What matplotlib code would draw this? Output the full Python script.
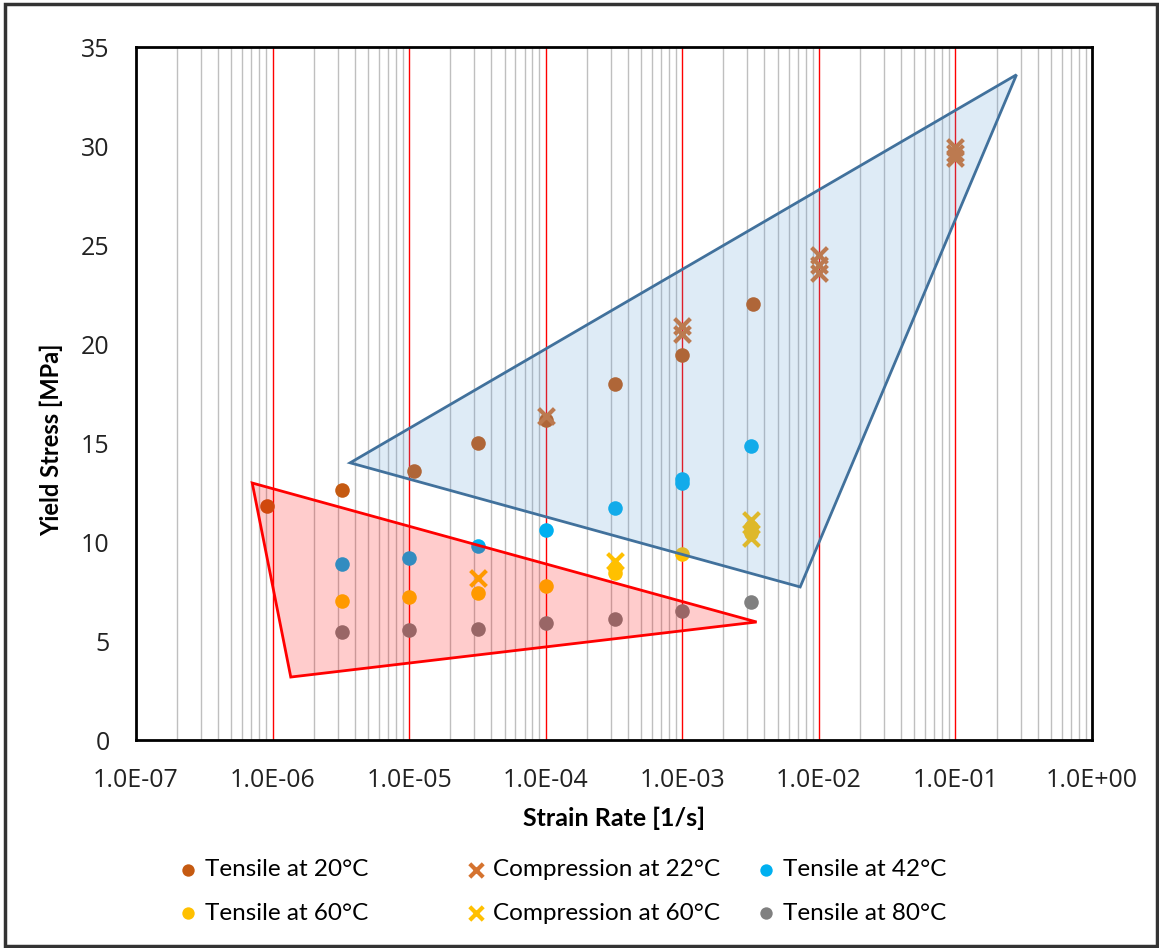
import numpy as np
import matplotlib.pyplot as plt
from matplotlib.patches import Polygon, Rectangle
from matplotlib.ticker import FixedLocator, FuncFormatter, NullFormatter

# Yield stress [MPa] vs strain rate [1/s]
t20_rate = [9.1e-7, 3.2e-6, 1.08e-5, 3.2e-5, 1.0e-4, 3.2e-4, 1.0e-3, 3.3e-3]
t20_stress = [11.82, 12.63, 13.59, 15.0, 16.16, 17.98, 19.44, 22.02]

c22_rate = [1.0e-4, 1.0e-3, 1.0e-3, 1.0e-2, 1.0e-2, 1.0e-2, 1.0e-1, 1.0e-1, 1.0e-1]
c22_stress = [16.35, 20.9, 20.5, 24.5, 24.0, 23.6, 29.95, 29.65, 29.4]

t42_rate = [3.2e-6, 1.0e-5, 3.2e-5, 1.0e-4, 3.2e-4, 1.0e-3, 1.0e-3, 3.2e-3]
t42_stress = [8.9, 9.2, 9.8, 10.6, 11.7, 13.2, 13.0, 14.85]

t60_rate = [3.2e-6, 1.0e-5, 3.2e-5, 1.0e-4, 3.2e-4, 3.2e-4, 1.0e-3, 3.2e-3, 3.2e-3]
t60_stress = [7.0, 7.2, 7.4, 7.8, 8.7, 8.45, 9.4, 10.75, 10.45]

c60_rate = [3.2e-5, 3.2e-4, 3.2e-3, 3.2e-3]
c60_stress = [8.2, 9.05, 11.1, 10.2]

t80_rate = [3.2e-6, 1.0e-5, 3.2e-5, 1.0e-4, 3.2e-4, 1.0e-3, 3.2e-3]
t80_stress = [5.45, 5.55, 5.6, 5.9, 6.1, 6.5, 6.97]

# envelope regions
blue_rate = [3.7e-6, 0.28, 7.3e-3]
blue_stress = [14.0, 33.6, 7.73]
red_rate = [7.1e-7, 3.5e-3, 1.36e-6]
red_stress = [12.98, 5.96, 3.18]

LABEL_FONT = ['Lato', 'DejaVu Sans']
TICK_FONT = ['Open Sans', 'DejaVu Sans']

fig = plt.figure(figsize=(11.59, 9.48), dpi=100)
ax = fig.add_axes([0.1173, 0.2194, 0.8249, 0.731])

ax.set_xscale('log')
ax.set_xlim(1e-7, 1e0)
ax.set_ylim(0, 35)

decades = [10.0 ** d for d in range(-7, 1)]
minors = [s * 10.0 ** d for d in range(-7, 0) for s in range(2, 10)]
ax.xaxis.set_major_locator(FixedLocator(decades))
ax.xaxis.set_minor_locator(FixedLocator(minors))
ax.xaxis.set_minor_formatter(NullFormatter())

# vertical grid: red at decades, light gray in between
for x in decades[1:-1]:
    ax.axvline(x, color='#FF0000', lw=1.0, zorder=1)
for x in minors:
    ax.axvline(x, color='#BFBFBF', lw=1.0, zorder=0.5)

h1 = ax.scatter(t20_rate, t20_stress, s=110, color='#C55A11',
                linewidths=0, zorder=2, label='Tensile at 20°C')
h2 = ax.scatter(c22_rate, c22_stress, s=130, marker='x', color='#D5732F',
                linewidths=3, zorder=2, label='Compression at 22°C')
h3 = ax.scatter(t42_rate, t42_stress, s=110, color='#00B0F0',
                linewidths=0, zorder=2, label='Tensile at 42°C')
h4 = ax.scatter(t60_rate, t60_stress, s=110, color='#FFC000',
                linewidths=0, zorder=2, label='Tensile at 60°C')
h5 = ax.scatter(c60_rate, c60_stress, s=130, marker='x', color='#FFC000',
                linewidths=3, zorder=2, label='Compression at 60°C')
h6 = ax.scatter(t80_rate, t80_stress, s=110, color='#808080',
                linewidths=0, zorder=2, label='Tensile at 80°C')

# translucent envelopes laid over the points
ax.add_patch(Polygon(list(zip(blue_rate, blue_stress)), closed=True,
                     facecolor=(91/255, 155/255, 213/255, 0.2),
                     edgecolor='#41719C', lw=2, zorder=3))
ax.add_patch(Polygon(list(zip(red_rate, red_stress)), closed=True,
                     facecolor=(1, 0, 0, 0.2),
                     edgecolor='#FF0000', lw=2, zorder=3))

ax.set_yticks(np.arange(0, 36, 5))
ax.xaxis.set_major_formatter(FuncFormatter(lambda v, p: '{:.1E}'.format(v)))
ax.tick_params(axis='both', which='both', length=0, labelsize=18)
ax.tick_params(axis='x', pad=20)
ax.tick_params(axis='y', pad=19)
for lab in ax.get_xticklabels() + ax.get_yticklabels():
    lab.set_family(TICK_FONT)
    lab.set_color('#222222')

for sp in ax.spines.values():
    sp.set_linewidth(2)
    sp.set_color('black')
    sp.set_zorder(5)

ax.set_xlabel('Strain Rate [1/s]', family=LABEL_FONT, fontweight='bold', fontsize=18)
ax.set_ylabel('Yield Stress [MPa]', family=LABEL_FONT, fontweight='bold', fontsize=17)
ax.xaxis.set_label_coords(0.5, -0.0967)
ax.yaxis.set_label_coords(-0.0764, 0.433)

# legend: three fixed-width columns of two rows each
columns = [(h1, h4), (h2, h5), (h3, h6)]
col_x = [188, 476, 766]
fs = 17.5
hl = 0.8
for (ha, hb), cx in zip(columns, col_x):
    anchor_x = (cx - hl * fs * 100 / 72 / 2) / 1159
    leg = fig.legend(handles=[ha, hb], labels=[ha.get_label(), hb.get_label()],
                     loc='center left', bbox_to_anchor=(anchor_x, 1 - 891.5 / 948),
                     frameon=False, prop={'family': LABEL_FONT, 'size': fs},
                     handletextpad=0.3, labelspacing=0.92, borderpad=0,
                     borderaxespad=0, handlelength=hl, markerscale=0.85)

# outer frame
fig.patches.append(Rectangle((0.004, 0.002), 0.994, 0.994, transform=fig.transFigure,
                             fill=False, edgecolor='#333333', lw=2.5))

fig.savefig('out.png', dpi=100)
